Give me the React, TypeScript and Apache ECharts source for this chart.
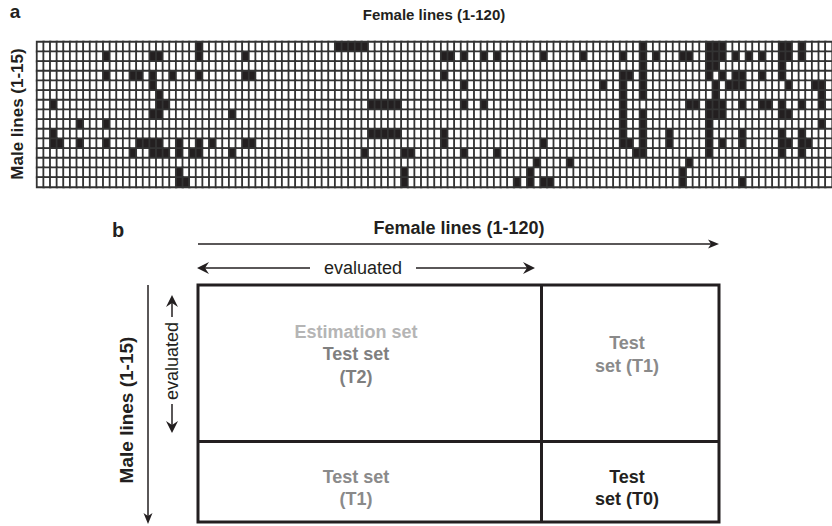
import { useEffect, useRef } from "react";
import * as echarts from "echarts";

// Panel a: male lines (rows) x female lines (columns); listed female lines are the crosses that were tested.
const femaleLines: string[] = Array.from({ length: 120 }, (_, i) => String(i + 1));
const maleLines: string[] = Array.from({ length: 15 }, (_, i) => String(i + 1));

const male1 = [25, 46, 47, 48, 49, 50, 92, 102, 103, 104, 113, 114, 116];
const male2 = [11, 18, 19, 25, 32, 62, 63, 65, 68, 70, 77, 83, 89, 92, 94, 98, 99, 102, 103, 104, 106, 108, 110, 113, 114, 116];
const male3 = [92, 102, 103, 113];
const male4 = [11, 15, 16, 18, 21, 25, 32, 33, 62, 89, 90, 92, 102, 104, 106, 107, 110, 113];
const male5 = [18, 65, 86, 89, 92, 103, 105, 106, 107, 114, 118, 119];
const male6 = [19, 89, 92, 103, 119];
const male7 = [3, 19, 20, 51, 52, 53, 54, 55, 65, 68, 89, 99, 100, 102, 103, 104, 107, 110, 111, 113, 116, 119];
const male8 = [18, 19, 30, 89, 92, 102, 103, 104, 113, 114];
const male9 = [7, 11, 89, 92, 102, 119];
const male10 = [3, 51, 52, 53, 54, 55, 62, 89, 92, 96, 102, 107, 113, 116];
const male11 = [3, 4, 7, 11, 16, 17, 18, 19, 22, 25, 27, 32, 33, 62, 77, 89, 90, 92, 96, 102, 104, 107, 113, 114, 116, 117];
const male12 = [15, 18, 19, 20, 22, 24, 25, 30, 50, 56, 57, 65, 70, 91, 92, 102, 113, 116];
const male13 = [76, 81, 99];
const male14 = [22, 56, 75, 98];
const male15 = [22, 23, 56, 73, 75, 77, 78, 98, 107];

const testedCrosses: number[][] = [
  male1, male2, male3, male4, male5, male6, male7, male8,
  male9, male10, male11, male12, male13, male14, male15,
];

const FONT = '"Liberation Sans", Arial, Helvetica, sans-serif';
const INK = "#231f20";

function txt(
  text: string,
  x: number,
  y: number,
  size: number,
  opts: { bold?: boolean; fill?: string; rotate?: boolean } = {}
) {
  return {
    type: "text",
    x,
    y,
    rotation: opts.rotate ? Math.PI / 2 : 0,
    silent: true,
    style: {
      text,
      fill: opts.fill ?? INK,
      fontSize: size,
      fontWeight: opts.bold ? "bold" : "normal",
      fontFamily: FONT,
      textAlign: "center",
      textVerticalAlign: "middle",
      align: "center",
      verticalAlign: "middle",
    },
  };
}

function seg(x1: number, y1: number, x2: number, y2: number, w: number) {
  return {
    type: "line",
    silent: true,
    shape: { x1, y1, x2, y2 },
    style: { stroke: INK, lineWidth: w },
  };
}

// Notched arrow head; dir is the pointing direction: "l" | "r" | "u" | "d"
function head(tx: number, ty: number, dir: string, len: number, half: number, notch: number) {
  const local = [
    [0, 0],
    [len, -half],
    [len - notch, 0],
    [len, half],
  ];
  const pts = local.map(([a, b]) => {
    if (dir === "l") return [tx + a, ty + b];
    if (dir === "r") return [tx - a, ty + b];
    if (dir === "u") return [tx + b, ty + a];
    return [tx + b, ty - a];
  });
  return { type: "polygon", silent: true, shape: { points: pts }, style: { fill: INK } };
}

export default function App() {
  const ref = useRef<HTMLDivElement>(null);

  useEffect(() => {
    if (!ref.current) return;
    const chart = echarts.init(ref.current, undefined, { renderer: "svg" });

    const cells: number[][] = [];
    testedCrosses.forEach((row, m) => {
      const set = new Set(row);
      for (let f = 0; f < femaleLines.length; f++) {
        cells.push([f, m, set.has(f + 1) ? 1 : 0]);
      }
    });

    const graphic: any[] = [
      // panel a labels
      txt("a", 15, 11, 19, { bold: true }),
      txt("Female lines (1-120)", 434, 14, 15, { bold: true }),
      txt("Male lines (1-15)", 17, 114, 17, { bold: true, rotate: true }),

      // panel b labels
      txt("b", 118, 230, 20, { bold: true }),
      txt("Female lines (1-120)", 459, 228, 18, { bold: true }),

      // female axis arrow
      seg(198, 244, 712, 244, 1.5),
      head(719, 244, "r", 11, 4.5, 3),

      // evaluated (female) double arrow
      seg(203, 268, 310, 268, 1.5),
      head(197, 268, "l", 12, 6, 4),
      txt("evaluated", 363, 268, 18),
      seg(416, 268, 529, 268, 1.5),
      head(535, 268, "r", 12, 6, 4),

      // male axis arrow
      seg(148, 285, 148, 517, 1.5),
      head(148, 524, "d", 11, 4.5, 3),
      txt("Male lines (1-15)", 126, 410, 19, { bold: true, rotate: true }),

      // evaluated (male) double arrow
      seg(172, 301, 172, 317, 1.5),
      head(172, 295, "u", 12, 6, 4),
      txt("evaluated", 172, 361, 18, { rotate: true }),
      seg(172, 404, 172, 427, 1.5),
      head(172, 433, "d", 12, 6, 4),

      // partition box
      {
        type: "rect",
        silent: true,
        shape: { x: 198, y: 285, width: 521, height: 237 },
        style: { fill: "none", stroke: INK, lineWidth: 3 },
      },
      seg(541.5, 285, 541.5, 522, 3),
      seg(198, 441.5, 719, 441.5, 3),

      // cell captions
      txt("Estimation set", 356, 332, 18, { bold: true, fill: "#b5b5b5" }),
      txt("Test set", 356, 354, 18, { bold: true, fill: "#7f7f7f" }),
      txt("(T2)", 356, 377, 18, { bold: true, fill: "#7f7f7f" }),
      txt("Test", 627, 343, 18, { bold: true, fill: "#8a8a8a" }),
      txt("set (T1)", 627, 366, 18, { bold: true, fill: "#8a8a8a" }),
      txt("Test set", 356, 477, 18, { bold: true, fill: "#8a8a8a" }),
      txt("(T1)", 356, 499, 18, { bold: true, fill: "#8a8a8a" }),
      txt("Test", 627, 477, 18, { bold: true, fill: INK }),
      txt("set (T0)", 627, 499, 18, { bold: true, fill: INK }),
    ];

    chart.setOption({
      animation: false,
      backgroundColor: "#ffffff",
      grid: { left: 37, top: 42, width: 802, height: 145 },
      xAxis: {
        type: "category",
        data: femaleLines,
        show: false,
      },
      yAxis: {
        type: "category",
        data: maleLines,
        inverse: true,
        show: false,
      },
      visualMap: {
        show: false,
        type: "piecewise",
        dimension: 2,
        pieces: [
          { min: -0.5, max: 0.5, color: "#ffffff" },
          { min: 0.5, max: 1.5, color: INK },
        ],
      },
      series: [
        {
          type: "heatmap",
          data: cells,
          itemStyle: { borderColor: "#333333", borderWidth: 1.8 },
          emphasis: { disabled: true },
        },
      ],
      graphic,
    });

    return () => chart.dispose();
  }, []);

  return (
    <div
      ref={ref}
      style={{ position: "absolute", left: 0, top: 0, width: 832, height: 526, background: "#fff" }}
    />
  );
}
